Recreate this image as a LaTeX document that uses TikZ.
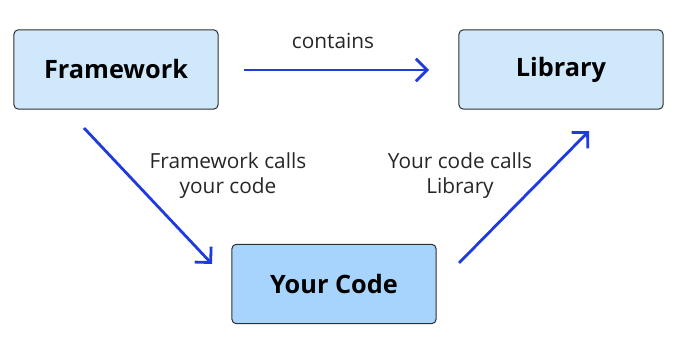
\documentclass[tikz,border=0pt]{standalone}
\usepackage{fontspec}
\setmainfont{Open Sans}
\usetikzlibrary{arrows.meta, positioning}
\usepackage{xcolor}
\definecolor{cLight}{HTML}{D0E8FC}
\definecolor{cMid}{HTML}{A6D4FD}
\definecolor{cEdge}{HTML}{2E2E2E}
\definecolor{cBlue}{HTML}{1F3BE0}

\begin{document}
\begin{tikzpicture}[
  x=0.025cm, y=-0.025cm,
  part/.style={rectangle, rounded corners=3pt, draw=cEdge, line width=0.7pt,
               minimum width=5.1cm, minimum height=1.98cm, align=center,
               font=\fontsize{18}{20}\selectfont\bfseries, inner sep=0pt},
  lightbox/.style={part, fill=cLight},
  midbox/.style={part, fill=cMid},
  lbl/.style={font=\fontsize{14.8}{17.8}\selectfont, align=center, text=black!85},
  arr/.style={-{Straight Barb[length=8pt, width=16pt, line width=2pt]},
              line width=2pt, color=cBlue},
]
\useasboundingbox (0,0) rectangle (676,339);

% ---- Boxes ----
\node[lightbox] (fw)  at (116,69.5)  {Framework};
\node[lightbox] (lib) at (561,69.5)  {Library};
\node[midbox]   (yc)  at (334,284)   {Your Code};

% ---- Arrow ends ----
\coordinate (c1) at (244,70);
\coordinate (c2) at (429,70);
\coordinate (f1) at (84,128);
\coordinate (f2) at (212,264);
\coordinate (y1) at (459,263);
\coordinate (y2) at (589,131);

% ---- Arrows and labels ----
\draw[arr] (c1) -- (c2);
\draw[arr] (f1) -- (f2);
\draw[arr] (y1) -- (y2);
\node[lbl] (lc) at (333,41)  {contains};
\node[lbl] (lf) at (228,176) {Framework calls\\your code};
\node[lbl] (ly) at (460,176) {Your code calls\\Library};

\end{tikzpicture}
\end{document}
